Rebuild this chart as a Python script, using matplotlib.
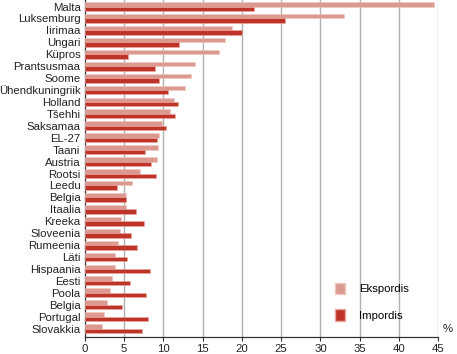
import matplotlib
matplotlib.use("Agg")
import matplotlib.pyplot as plt
from matplotlib.patches import Patch
import numpy as np

plt.rcParams['font.family'] = ['Liberation Sans', 'DejaVu Sans']

categories = ["Malta", "Luksemburg", "Iirimaa", "Ungari", "Küpros", "Prantsusmaa",
              "Soome", "Ühendkuningriik", "Holland", "Tšehhi", "Saksamaa", "EL-27",
              "Taani", "Austria", "Rootsi", "Leedu", "Belgia", "Itaalia", "Kreeka",
              "Sloveenia", "Rumeenia", "Läti", "Hispaania", "Eesti", "Poola",
              "Belgia", "Portugal", "Slovakkia"]
ekspordis = [44.4, 33.0, 18.8, 17.8, 17.1, 14.1, 13.5, 12.8, 11.4, 10.9, 9.9, 9.5,
             9.3, 9.2, 7.0, 6.0, 5.3, 5.2, 4.6, 4.5, 4.3, 3.9, 3.8, 3.5, 3.2, 2.9,
             2.5, 2.2]
impordis = [21.6, 25.5, 20.0, 12.0, 5.5, 9.0, 9.5, 10.6, 11.9, 11.5, 10.3, 9.2,
            7.7, 8.4, 9.1, 4.1, 5.2, 6.5, 7.5, 5.9, 6.7, 5.4, 8.3, 5.8, 7.8, 4.7,
            8.0, 7.3]
xticks = [0, 5, 10, 15, 20, 25, 30, 35, 40, 45]

c_eks = "#dc9990"
c_imp = "#be3429"
fs = 8.2

n = len(categories)
fig = plt.figure(figsize=(4.57, 3.54), dpi=100)
ax = fig.add_axes([0.1853, 0.0472, 0.959 - 0.1853, 1 - 0.0472])

y = np.arange(n)
h = 0.37
ax.barh(y - h / 2, ekspordis, height=h, color=c_eks, edgecolor="#f0c8c2",
        linewidth=0.4, zorder=3)
ax.barh(y + h / 2, impordis, height=h, color=c_imp, edgecolor="#e8a8a0",
        linewidth=0.4, zorder=3)

ax.set_xlim(0, 45)
ax.set_ylim(n - 1 + 0.73, -0.55)
ax.set_yticks(y)
ax.set_yticklabels(categories, fontsize=fs, color="#222222")
ax.tick_params(axis='y', length=0, pad=3)
ax.set_xticks(xticks)
ax.set_xticklabels([str(t) for t in xticks], fontsize=fs, color="#222222")
ax.tick_params(axis='x', length=3, width=0.8, color="#333333", pad=2)

for s in ["top", "right"]:
    ax.spines[s].set_visible(False)
ax.spines["bottom"].set_color("#333333")
ax.spines["bottom"].set_linewidth(0.9)
ax.spines["left"].set_color("#333333")
ax.spines["left"].set_linewidth(0.9)

for t in xticks[1:]:
    ax.axvline(t, color="#b0b0b0", linewidth=1.0, zorder=1)

handles = [Patch(facecolor=c_eks, edgecolor="#f0c8c2", label="Ekspordis"),
           Patch(facecolor=c_imp, edgecolor="#e8a8a0", label="Impordis")]
fig.legend(handles=handles, loc="center left", bbox_to_anchor=(0.71, 0.148),
           frameon=False, fontsize=fs, handlelength=0.9, handleheight=1.2,
           handletextpad=1.2, labelspacing=1.3)

fig.text(0.99, 0.07, "%", fontsize=fs, color="#222222", ha="right", va="center")

fig.savefig("out.png", dpi=100)
